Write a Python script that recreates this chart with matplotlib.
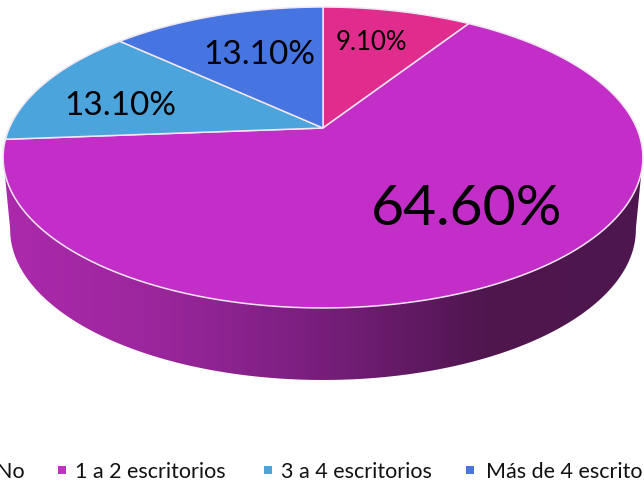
"""Perspective 3D pie: escritorios, with the legend cut off at both edges."""
import matplotlib
matplotlib.use("Agg")
import matplotlib.pyplot as plt
import numpy as np
from matplotlib.colors import LinearSegmentedColormap
from matplotlib.patches import Polygon

categories = ["No", "1 a 2 escritorios", "3 a 4 escritorios", "Más de 4 escritorios"]
values = [9.1, 64.6, 13.1, 13.1]
labels = ["9.10%", "64.60%", "13.10%", "13.10%"]
colors = ["#E02C8C", "#C42EC8", "#4CA4DC", "#4674E1"]

plt.rcParams["font.family"] = ["Lato", "DejaVu Sans"]

CX, CY = 323, 129
R, A, K = 313.7, 144.7, 0.196


def rim(theta):
    # theta clockwise from the top of the pie, projected with perspective
    u, v = np.sin(theta), np.cos(theta)
    d = 1 + K * v
    return CX + R * u / d, CY - A * v / d


def lower_rim(theta):
    x, y = rim(theta)
    return CX + (x - CX) * 0.978, y + 72


fig = plt.figure(figsize=(6.44, 4.81), dpi=100)
ax = fig.add_axes([0, 0, 1, 1])
ax.set_xlim(0, 644)
ax.set_ylim(481, 0)
ax.axis("off")

# Side wall, shaded left to right
t = np.radians(np.linspace(101, 259, 300))
tx, ty = rim(t)
bx, by = lower_rim(t)
wall = Polygon(np.column_stack([np.r_[tx, bx[::-1]], np.r_[ty, by[::-1]]]),
               closed=True, facecolor="none", edgecolor="none")
ax.add_patch(wall)
shade = LinearSegmentedColormap.from_list(
    "wall", [(0, "#AC2AAC"), (0.25, "#9A269C"), (0.5, "#771E7C"),
             (0.75, "#50164F"), (1, "#4E164E")])
grad = ax.imshow(np.linspace(0, 1, 644)[None, :], cmap=shade, aspect="auto",
                 extent=(0, 644, 481, 0), zorder=1)
grad.set_clip_path(wall)
ax.set_xlim(0, 644)
ax.set_ylim(481, 0)

# Top face
edges = np.cumsum([0] + values) / sum(values) * 2 * np.pi
for start, end, col in zip(edges[:-1], edges[1:], colors):
    a = np.linspace(start, end, 150)
    x, y = rim(a)
    ax.add_patch(Polygon(np.column_stack([np.r_[CX, x], np.r_[CY, y]]), closed=True,
                         facecolor=col, edgecolor="#F2E6F2", linewidth=1.1, zorder=2))

label_xy = [(371, 42), (467, 210), (120, 106), (259, 55)]
label_size = [18.5, 41, 24, 24]
for (x, y), txt, size in zip(label_xy, labels, label_size):
    ax.text(x, y, txt, ha="center", va="center", fontsize=size, color="black", zorder=3)

# Legend, which runs off the canvas on both sides
marker_x = [-20, 62, 268, 470]
text_x = [-4, 75, 281, 486]
for mx, lx, name, col in zip(marker_x, text_x, categories, colors):
    ax.scatter([mx], [471], marker="s", s=38, color=col, linewidths=0, zorder=3)
    ax.text(lx, 472, name, ha="left", va="center", fontsize=15.5, color="#111111",
            clip_on=True, zorder=3)

fig.savefig("out.png", dpi=100)
plt.close(fig)
